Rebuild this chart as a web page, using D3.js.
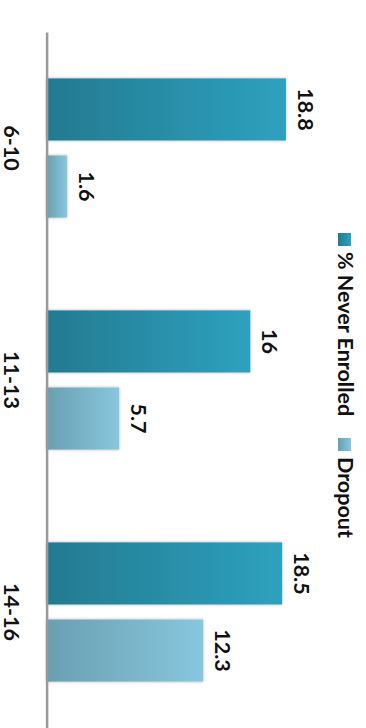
<!DOCTYPE html>
<html>
<head>
<meta charset="utf-8">
<script src="https://cdn.jsdelivr.net/npm/d3@7"></script>
<style>
  html, body { margin: 0; padding: 0; background: #ffffff; }
  svg { display: block; }
  text { font-family: Lato, "Liberation Sans", Arial, sans-serif; font-weight: bold; fill: #111; }
</style>
</head>
<body>
<svg id="chart" width="366" height="728"></svg>
<script>
// Age groups and the two rates for each
const ageGroups = ["6-10", "11-13", "14-16"];
const seriesNames = ["% Never Enrolled", "Dropout"];
const neverEnrolled = [18.8, 16, 18.5];
const dropout = [1.6, 5.7, 12.3];

const rows = ageGroups.map((g, i) => ({ group: g, values: [neverEnrolled[i], dropout[i]] }));

const svg = d3.select("#chart");
const W = 366, H = 728;

// Gradients and soft shadow for the bars
const defs = svg.append("defs");
const gradStops = [
  ["#237a90", "#2ea1bf"],
  ["#6a9fb1", "#87c7de"]
];
gradStops.forEach((c, i) => {
  const g = defs.append("linearGradient").attr("id", "grad" + i)
    .attr("x1", "0").attr("x2", "1").attr("y1", "0").attr("y2", "0");
  g.append("stop").attr("offset", "0%").attr("stop-color", c[0]);
  g.append("stop").attr("offset", "100%").attr("stop-color", c[1]);
});
const f = defs.append("filter").attr("id", "shadow")
  .attr("x", "-10%").attr("y", "-20%").attr("width", "120%").attr("height", "140%");
f.append("feDropShadow").attr("dx", 0).attr("dy", 0).attr("stdDeviation", 1.8)
  .attr("flood-color", "#000").attr("flood-opacity", 0.3);

// Value axis runs left to right; categories run top to bottom
const x = d3.scaleLinear().domain([0, 20]).range([46.6, 301.2]);
const y0 = d3.scaleBand().domain(ageGroups).range([32, H]).paddingInner(0.4).paddingOuter(0.2);
const y1 = d3.scaleBand().domain(d3.range(seriesNames.length)).range([0, y0.bandwidth()]).paddingInner(0.195);

// Bars
const groups = svg.append("g").selectAll("g").data(rows).join("g")
  .attr("transform", d => `translate(0,${y0(d.group)})`);

groups.selectAll("rect").data(d => d.values.map((v, i) => ({ v, i }))).join("rect")
  .attr("x", x(0))
  .attr("y", d => y1(d.i))
  .attr("width", d => x(d.v) - x(0))
  .attr("height", y1.bandwidth())
  .attr("fill", d => `url(#grad${d.i})`)
  .attr("filter", "url(#shadow)");

// Value labels, rotated with the chart
groups.selectAll("text.val").data(d => d.values.map((v, i) => ({ v, i }))).join("text")
  .attr("class", "val")
  .attr("text-anchor", "middle")
  .attr("font-size", 21.5)
  .attr("transform", d => `translate(${x(d.v) + 12},${y1(d.i) + y1.bandwidth() / 2}) rotate(90)`)
  .text(d => d.v);

// Category axis along the left edge
const axis = svg.append("g").attr("transform", `translate(${x(0)},0)`)
  .call(d3.axisLeft(y0).tickSize(0).tickSizeOuter(0));
axis.select(".domain").attr("stroke", "#999").attr("stroke-width", 2.5);
axis.selectAll(".tick text")
  .attr("x", null).attr("dy", null)
  .attr("text-anchor", "middle")
  .attr("font-size", 21.5)
  .attr("font-family", null)
  .attr("fill", "#111")
  .attr("transform", "translate(-42.5,0) rotate(90)");

// Legend on the right
const legendPos = [233, 438];
const legend = svg.append("g").selectAll("g").data(seriesNames).join("g")
  .attr("transform", (d, i) => `translate(338,${legendPos[i]})`);
legend.append("rect").attr("x", 0).attr("y", 0).attr("width", 13).attr("height", 13)
  .attr("fill", (d, i) => `url(#grad${i})`);
legend.append("text")
  .attr("font-size", 21.5)
  .attr("transform", "translate(0,19) rotate(90)")
  .text(d => d);
</script>
</body>
</html>
